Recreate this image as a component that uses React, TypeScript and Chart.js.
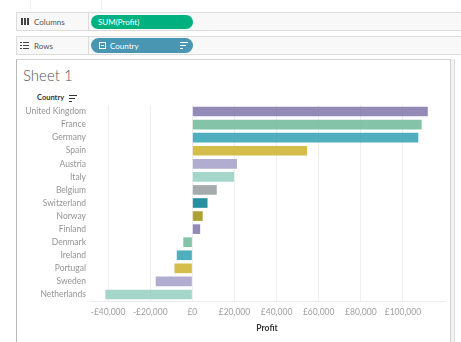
import React, { useEffect, useRef } from "react";
import { Chart, registerables } from "chart.js";

Chart.register(...registerables);

const countries = [
  "United Kingdom", "France", "Germany", "Spain", "Austria", "Italy", "Belgium",
  "Switzerland", "Norway", "Finland", "Denmark", "Ireland", "Portugal", "Sweden", "Netherlands",
];
const profit = [
  111800, 108900, 107300, 54500, 21200, 19800, 11600,
  7200, 4900, 3700, -4300, -7400, -8500, -17400, -41300,
];
const palette = [
  "129,117,170", "111,184,153", "49,161,179", "204,178,43", "163,159,201",
  "148,208,192", "149,156,158", "2,123,142", "159,143,18",
];
const xTickValues = [-40000, -20000, 0, 20000, 40000, 60000, 80000, 100000];
const xMin = -48600;
const xMax = 119500;
const FONT = "Lato, 'Open Sans', sans-serif";

function fmt(v: number) {
  const s = "£" + Math.abs(v).toLocaleString("en-GB");
  return v < 0 ? "-" + s : s;
}

function SortIcon({ left, top, color }: { left: number; top: number; color: string }) {
  return (
    <div style={{ position: "absolute", left, top, width: 8, height: 7 }}>
      <div style={{ position: "absolute", left: 0, top: 0, width: 8, height: 1.3, background: color }} />
      <div style={{ position: "absolute", left: 0, top: 3, width: 6, height: 1.3, background: color }} />
      <div style={{ position: "absolute", left: 0, top: 6, width: 3, height: 1.3, background: color }} />
    </div>
  );
}

export default function App() {
  const ref = useRef<HTMLCanvasElement | null>(null);

  useEffect(() => {
    if (!ref.current) return;
    const chart = new Chart(ref.current, {
      type: "bar",
      data: {
        labels: countries,
        datasets: [
          {
            data: profit,
            backgroundColor: profit.map((_, i) => `rgba(${palette[i % palette.length]},0.85)`),
            borderWidth: 0,
            barPercentage: 0.74,
            categoryPercentage: 1,
          },
        ],
      },
      options: {
        indexAxis: "y",
        animation: false,
        responsive: false,
        devicePixelRatio: 1,
        layout: { padding: { top: 45, right: 6, bottom: 0, left: 0 } },
        plugins: { legend: { display: false }, tooltip: { enabled: false } },
        scales: {
          x: {
            type: "linear",
            min: xMin,
            max: xMax,
            afterBuildTicks: (scale: any) => {
              scale.ticks = xTickValues.map((v) => ({ value: v }));
            },
            afterFit: (scale: any) => {
              scale.height = 36;
            },
            grid: { color: "#efefef", lineWidth: 1, drawTicks: false },
            border: { display: true, color: "#ececec" },
            ticks: {
              padding: 6,
              color: "#a0a0a0",
              font: { family: FONT, size: 8.5 },
              callback: (v: any) => fmt(Number(v)),
            },
            title: {
              display: true,
              text: "Profit",
              color: "#333",
              font: { family: FONT, size: 8.5, weight: "bold" },
              padding: { top: 0, bottom: 4 },
            },
          },
          y: {
            afterFit: (scale: any) => {
              scale.width = 73;
            },
            grid: { display: false, drawTicks: false },
            border: { display: false },
            ticks: {
              autoSkip: false,
              padding: 4,
              color: "#949494",
              font: { family: FONT, size: 8.5 },
            },
          },
        },
      },
    } as any);
    return () => chart.destroy();
  }, []);

  const label: React.CSSProperties = {
    position: "absolute",
    fontSize: 8,
    color: "#555",
    fontFamily: FONT,
    lineHeight: "12px",
  };

  return (
    <div
      style={{
        position: "fixed",
        left: 0,
        top: 0,
        width: 461,
        height: 342,
        background: "#fff",
        fontFamily: FONT,
        overflow: "hidden",
      }}
    >
      {/* faint top lines */}
      <div style={{ position: "absolute", left: 30, top: 0, width: 1, height: 10, background: "#f0f0f0" }} />
      <div style={{ position: "absolute", left: 101, top: 0, width: 1, height: 10, background: "#f0f0f0" }} />

      {/* Columns shelf */}
      <div
        style={{
          position: "absolute", left: 16, top: 12, width: 445, height: 19,
          background: "#f8f8f8", borderTop: "1px solid #dcdcdc", borderBottom: "1px solid #dcdcdc",
          borderLeft: "1px solid #dcdcdc", boxSizing: "border-box",
        }}
      />
      <div style={{ position: "absolute", left: 88, top: 12, width: 1, height: 19, background: "#dcdcdc" }} />
      <div style={{ position: "absolute", left: 21, top: 18, width: 1.5, height: 7, background: "#444" }} />
      <div style={{ position: "absolute", left: 24, top: 18, width: 1.5, height: 7, background: "#444" }} />
      <div style={{ position: "absolute", left: 27, top: 18, width: 1.5, height: 7, background: "#444" }} />
      <div style={{ ...label, left: 34, top: 16 }}>Columns</div>
      <div
        style={{
          position: "absolute", left: 91, top: 15, width: 102, height: 14, borderRadius: 7,
          background: "#00b180",
        }}
      />
      <div style={{ ...label, left: 98, top: 16, color: "#fff" }}>SUM(Profit)</div>

      {/* Rows shelf */}
      <div
        style={{
          position: "absolute", left: 16, top: 36, width: 445, height: 19,
          background: "#f8f8f8", borderTop: "1px solid #dcdcdc", borderBottom: "1px solid #dcdcdc",
          borderLeft: "1px solid #dcdcdc", boxSizing: "border-box",
        }}
      />
      <div style={{ position: "absolute", left: 88, top: 36, width: 1, height: 19, background: "#dcdcdc" }} />
      {[0, 3, 6].map((d) => (
        <React.Fragment key={d}>
          <div style={{ position: "absolute", left: 20, top: 42 + d, width: 1.5, height: 1.3, background: "#444" }} />
          <div style={{ position: "absolute", left: 23, top: 42 + d, width: 6, height: 1.3, background: "#444" }} />
        </React.Fragment>
      ))}
      <div style={{ ...label, left: 34, top: 40 }}>Rows</div>
      <div
        style={{
          position: "absolute", left: 91, top: 38, width: 102, height: 15, borderRadius: 7.5,
          background: "#4996b2",
        }}
      />
      <div
        style={{
          position: "absolute", left: 99, top: 42, width: 7, height: 7, boxSizing: "border-box",
          border: "1px solid #fff",
        }}
      >
        <div style={{ position: "absolute", left: 1, top: 2, width: 3, height: 1, background: "#fff" }} />
      </div>
      <div style={{ ...label, left: 110, top: 40, color: "#fff" }}>Country</div>
      <SortIcon left={180} top={42} color="#fff" />

      {/* Sheet panel */}
      <div
        style={{
          position: "absolute", left: 16, top: 59, width: 435, height: 290, boxSizing: "border-box",
          borderTop: "1px solid #d4d4d4", borderLeft: "1px solid #b8b8b8", borderRight: "1px solid #cfcfcf",
        }}
      />
      <div
        style={{
          position: "absolute", left: 451, top: 59, width: 4, height: 290, boxSizing: "border-box",
          background: "#f3f3f3", borderRight: "1px solid #dadada",
        }}
      />
      <div
        style={{
          position: "absolute", left: 23, top: 66, fontSize: 15, lineHeight: "18px",
          color: "#555", fontWeight: 300, fontFamily: FONT,
        }}
      >
        Sheet 1
      </div>
      <div
        style={{
          position: "absolute", left: 37, top: 92, fontSize: 7.5, lineHeight: "12px",
          color: "#333", fontWeight: "bold", fontFamily: FONT,
        }}
      >
        Country
      </div>
      <SortIcon left={69} top={95} color="#333" />

      <canvas
        ref={ref}
        width={433}
        height={277}
        style={{ position: "absolute", left: 17, top: 60, width: 433, height: 277 }}
      />
    </div>
  );
}
